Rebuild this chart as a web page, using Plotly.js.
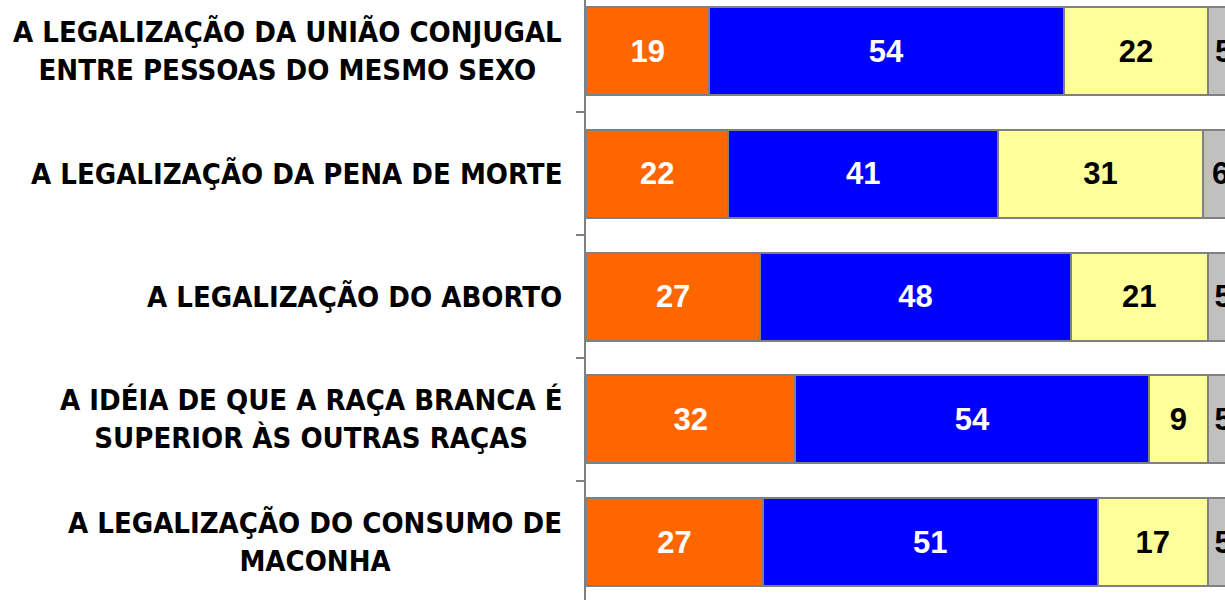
<!DOCTYPE html>
<html>
<head>
<meta charset="utf-8">
<script src="https://cdn.plot.ly/plotly-3.0.1.min.js"></script>
<style>html,body{margin:0;padding:0;background:#fff;overflow:hidden}</style>
</head>
<body>
<div id="chart" style="width:1225px;height:600px"></div>
<script>
const categories = [
  "A LEGALIZAÇÃO DA UNIÃO CONJUGAL<br>ENTRE PESSOAS DO MESMO SEXO",
  "A LEGALIZAÇÃO DA PENA DE MORTE",
  "A LEGALIZAÇÃO DO ABORTO",
  "A IDÉIA DE QUE A RAÇA BRANCA É<br>SUPERIOR ÀS OUTRAS RAÇAS",
  "A LEGALIZAÇÃO DO CONSUMO DE<br>MACONHA"
];
// values (labels shown rounded)
const seriesOrange = [18.9, 21.8, 26.7, 32.1, 27.1];
const seriesBlue   = [54.3, 41.4, 47.6, 54.2, 51.3];
const seriesYellow = [22.2, 31.3, 21.0, 9.0, 16.9];
const seriesGrey   = [4.6, 5.5, 4.7, 4.7, 4.7];

const colors = ["#FF6600", "#0000FF", "#FFFF99", "#C0C0C0"];
const textColors = ["#FFFFFF", "#FFFFFF", "#000000", "#000000"];
const allSeries = [seriesOrange, seriesBlue, seriesYellow, seriesGrey];

const traces = allSeries.map((vals, i) => ({
  type: "bar",
  orientation: "h",
  y: categories,
  x: vals,
  texttemplate: "%{x:.0f}",
  textposition: "inside",
  insidetextanchor: "middle",
  constraintext: "none",
  textangle: 0,
  textfont: {family: "Liberation Sans, Arial, sans-serif", size: 31, color: textColors[i], weight: "bold"},
  marker: {color: colors[i], line: {color: "#808080", width: 2}},
  hoverinfo: "none",
  showlegend: false
}));

const labelFont = {family: "DejaVu Sans Condensed, Liberation Sans Narrow, Arial Narrow, sans-serif", size: 29, color: "#000000", weight: "bold"};

const annotations = categories.map(c => ({
  text: c,
  xref: "paper",
  x: 0,
  xshift: -22,
  xanchor: "right",
  yref: "y",
  y: c,
  yanchor: "middle",
  align: "center",
  showarrow: false,
  font: labelFont
}));

const layout = {
  width: 1225,
  height: 600,
  barmode: "stack",
  bargap: 0.283,
  margin: {l: 586, r: 0, t: 0, b: 0, pad: 0},
  paper_bgcolor: "#FFFFFF",
  plot_bgcolor: "#FFFFFF",
  annotations: annotations,
  xaxis: {
    range: [0, 97.93],
    showgrid: false, zeroline: false, showticklabels: false, ticks: "", showline: false
  },
  yaxis: {
    type: "category",
    range: [4.4725, -0.4155],
    tickson: "boundaries",
    ticks: "outside",
    ticklen: 8,
    tickwidth: 2,
    tickcolor: "#808080",
    showline: true,
    linecolor: "#808080",
    linewidth: 2,
    showgrid: false,
    zeroline: false,
    showticklabels: false
  }
};

Plotly.newPlot("chart", traces, layout, {staticPlot: true, displayModeBar: false});
</script>
</body>
</html>
